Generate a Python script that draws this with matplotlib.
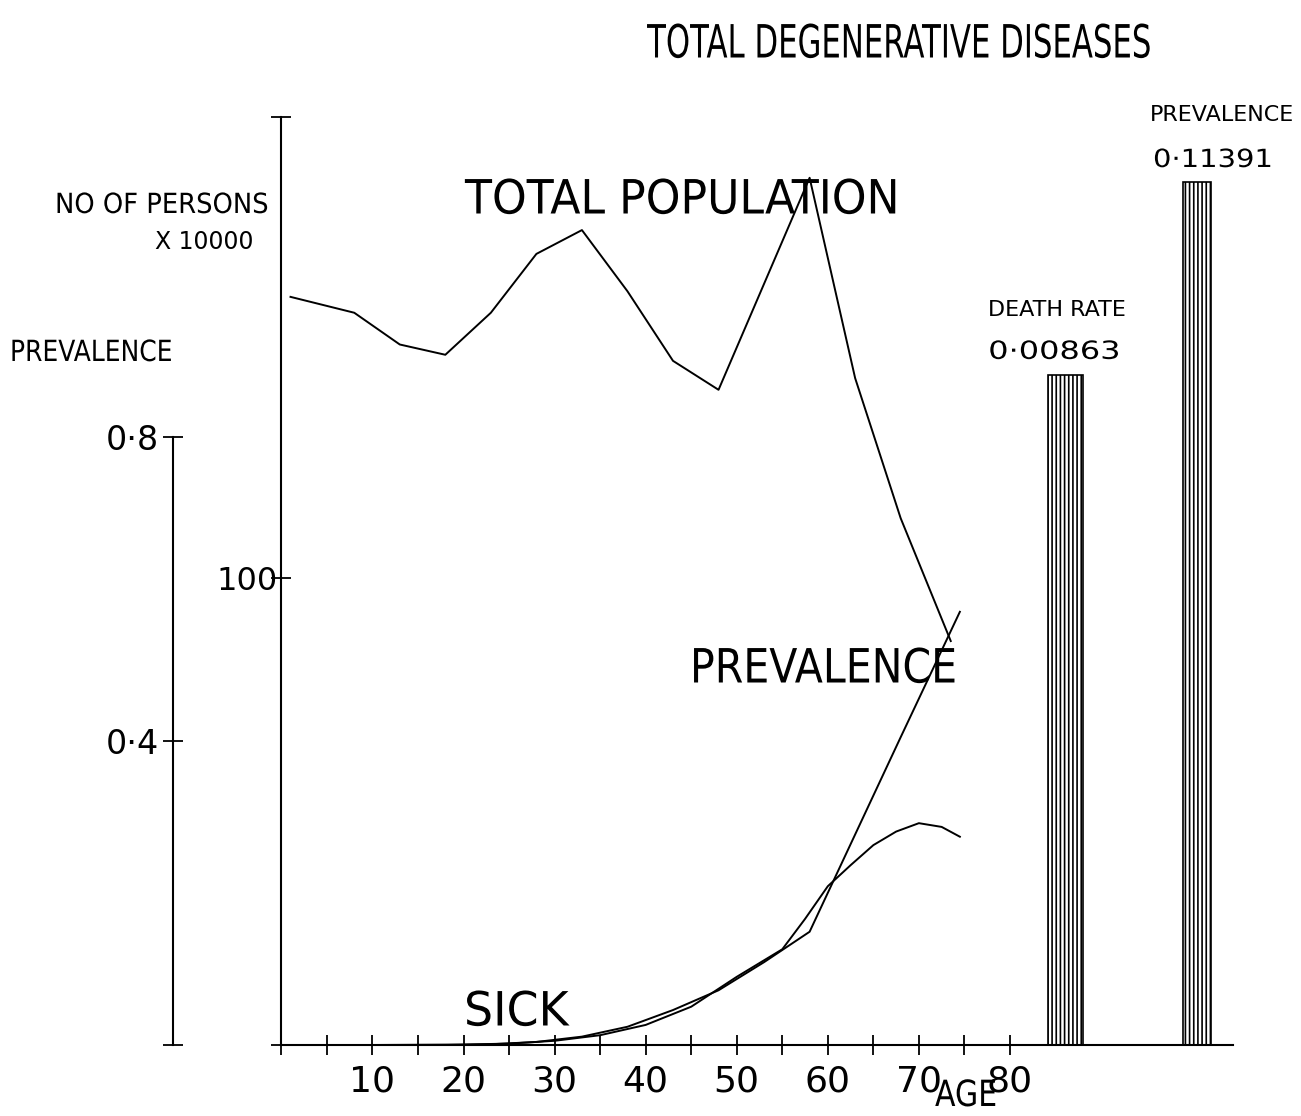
"""
Total degenerative diseases: population, sick and prevalence by age,
redrawn from an old pen-plotter chart.
"""

import matplotlib
matplotlib.use("Agg")  # no display
import matplotlib.pyplot as plt
from matplotlib.patheffects import AbstractPathEffect
from matplotlib.transforms import Affine2D, Bbox

# --- data ---
pop_age = [1, 8, 13, 18, 23, 28, 33, 38, 43, 48, 53, 58, 63, 68, 73.5]
pop = [160.2, 156.8, 150.0, 147.8, 156.8, 169.4, 174.5, 161.4, 146.5, 140.3,
       163.0, 185.7, 142.8, 112.8, 86.5]  # persons x 10000

prev_age = [1, 8, 13, 18, 23, 28, 33, 38, 43, 48, 53, 58, 63, 68, 74.5]
prev = [0.0, 0.0, 0.0, 0.0, 0.001, 0.004, 0.011, 0.024, 0.046, 0.072,
        0.109, 0.149, 0.277, 0.405, 0.570]

sick_age = [0, 10, 20, 25, 30, 35, 40, 45, 50, 55, 57.5, 60, 62.5, 65, 67.5,
            70, 72.5, 74.5]
sick = [0.0, 0.0, 0.1, 0.3, 0.9, 2.1, 4.3, 8.2, 14.6, 20.5, 27.0, 34.0, 38.5,
        42.8, 45.7, 47.5, 46.7, 44.6]  # persons x 10000

age_ticks = list(range(0, 85, 5))
age_labels = ["" if (t == 0 or t % 10) else str(t) for t in age_ticks]

bar_names = ["DEATH RATE", "PREVALENCE"]
bar_values = ["0·00863", "0·11391"]
bar_heights = [143.5, 184.8]  # drawn height, persons scale

# --- layout (pixels of the 1301x1116 picture) ---
W, H = 1301, 1116
ORIGIN_X, ORIGIN_Y = 281.4, 1045
PX_YEAR = 9.107
PX_PERSON = 4.67
PX_PREV = 760.0
XMAX, YMAX = 104.5, 210
PREV_AXIS_X = 173
PT = 0.72  # points per pixel at dpi 100

FONT = ["DejaVu Sans"]
LW = 1.4
SPINE_LW = 1.5


class Squeeze(AbstractPathEffect):
    """Scale glyphs horizontally, to get the narrow pen-plotter letters."""

    def __init__(self, sx, center=False):
        super().__init__()
        self.sx = sx
        self.center = center

    def draw_path(self, renderer, gc, tpath, affine, rgbFace=None):
        c = 0.0
        if self.center:
            ext = tpath.get_extents()
            c = (ext.x0 + ext.x1) / 2
        scale = Affine2D().translate(-c, 0).scale(self.sx, 1).translate(c, 0)
        renderer.draw_path(gc, tpath, scale + affine, rgbFace)


def squeeze(t, sx, center=False):
    """Narrow a text, and report its narrowed extent."""
    t.set_path_effects([Squeeze(sx, center)])
    full_extent = t.get_window_extent

    def extent(renderer=None, dpi=None):
        bb = full_extent(renderer, dpi)
        w = sx * bb.width
        x0 = bb.x0 + (bb.width - w) / 2 if center else bb.x0
        return Bbox.from_extents(x0, bb.y0, x0 + w, bb.y1)

    t.get_window_extent = extent
    return t


def fx(x):
    return x / W


def fy(y):
    return 1 - y / H


def label(x_left, y_mid, s, size, sx=1.0):
    t = fig.text(fx(x_left), fy(y_mid), s, ha="left", va="center",
                 fontsize=size, family=FONT)
    if sx != 1.0:
        squeeze(t, sx)
    return t


fig = plt.figure(figsize=(W / 100, H / 100), dpi=100)
ax_w = XMAX * PX_YEAR
ax = fig.add_axes([fx(ORIGIN_X), fy(ORIGIN_Y), ax_w / W, YMAX * PX_PERSON / H])
ax.set_xlim(0, XMAX)
ax.set_ylim(0, YMAX)

for s in ["top", "right"]:
    ax.spines[s].set_visible(False)
ax.spines["left"].set_bounds(0, 198.7)
for s in ["left", "bottom"]:
    ax.spines[s].set_linewidth(SPINE_LW)

ax.set_xticks(age_ticks)
ax.set_xticklabels(age_labels, family=FONT, fontsize=26)
ax.set_yticks([0, 100, 198.7])
ax.set_yticklabels(["", "100", ""], family=FONT, fontsize=23)
ax.tick_params(axis="x", direction="inout", length=14, width=1.3, pad=7)
ax.tick_params(axis="y", direction="inout", length=14, width=1.3, pad=-4)

# prevalence axis, further left, same pixel scale as drawn
ax2 = ax.twinx()
ax2.set_ylim(0, YMAX * PX_PERSON / PX_PREV)
for s in ["top", "right", "bottom"]:
    ax2.spines[s].set_visible(False)
ax2.spines["left"].set_visible(True)
ax2.spines["left"].set_position(("axes", -(ORIGIN_X - PREV_AXIS_X) / ax_w))
ax2.spines["left"].set_bounds(0, 0.8)
ax2.spines["left"].set_linewidth(SPINE_LW)
ax2.yaxis.set_ticks_position("left")
ax2.yaxis.set_label_position("left")
ax2.set_yticks([0, 0.4, 0.8])
ax2.set_yticklabels(["", "0·4", "0·8"], family=FONT, fontsize=24)
ax2.tick_params(axis="y", direction="inout", length=14, width=1.3, pad=3)

# --- curves ---
ax.plot(pop_age, pop, color="black", lw=LW)
ax.plot(sick_age, sick, color="black", lw=LW)
ax2.plot(prev_age, prev, color="black", lw=LW)

# --- summary bars ---
plt.rcParams["hatch.linewidth"] = 1.2
bar_x = [86.1, 100.55]
bar_w = [3.8, 3.1]
ax.bar(bar_x, bar_heights, width=bar_w, facecolor="white", edgecolor="black",
       hatch="||||", lw=1.2)

# label offsets from each bar's top-left corner, in pixels
name_off = [(-60, 65), (-33, 67)]
val_off = [(-60, 23), (-30, 22)]
val_sx = [1.28, 1.16]
for x, w, h, name, val, no, vo, vsx in zip(bar_x, bar_w, bar_heights,
                                          bar_names, bar_values, name_off,
                                          val_off, val_sx):
    ax.annotate(name, (x - w / 2, h), xytext=(no[0] * PT, no[1] * PT),
                textcoords="offset points", ha="left", va="center",
                fontsize=16, family=FONT)
    t = ax.annotate(val, (x - w / 2, h), xytext=(vo[0] * PT, vo[1] * PT),
                    textcoords="offset points", ha="left", va="center",
                    fontsize=18, family=FONT)
    squeeze(t, vsx)

# --- texts ---
title = fig.text(fx(900), fy(45), "TOTAL DEGENERATIVE DISEASES", ha="center",
                 va="center", fontsize=33, family=FONT)
squeeze(title, 0.671, center=True)
label(465, 201, "TOTAL POPULATION", 34, sx=0.935)
label(690, 670, "PREVALENCE", 34, sx=0.87)
label(464, 1013, "SICK", 34, sx=0.97)
label(935, 1096, "AGE", 26, sx=0.83)
label(55, 205, "NO OF PERSONS", 20, sx=0.93)
label(155, 242, "X 10000", 17)
label(10, 353, "PREVALENCE", 21, sx=0.857)

fig.savefig("out.png", dpi=100)
